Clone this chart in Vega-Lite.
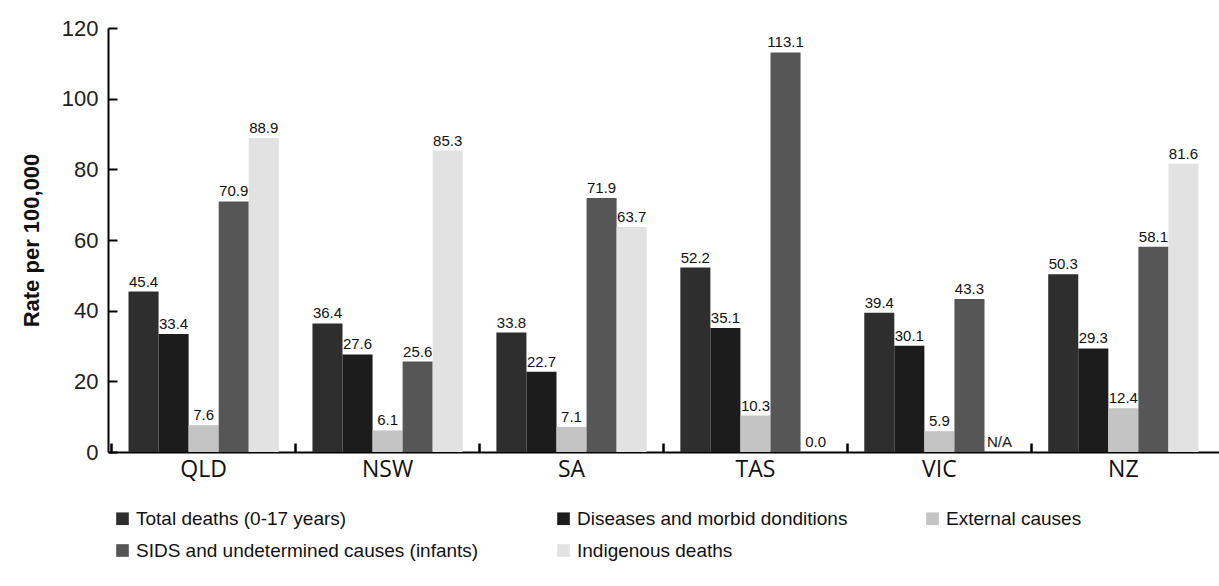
{
  "$schema": "https://vega.github.io/schema/vega-lite/v6.json",
  "width": 1111,
  "height": 424,
  "autosize": {"type": "none"},
  "padding": {"left": 108, "top": 28, "right": 0, "bottom": 134},
  "background": "white",
  "config": {"view": {"stroke": null}},
  "data": {
    "values": [
      {"region": "QLD", "cause": "Total deaths (0-17 years)", "value": 45.4, "label": "45.4"},
      {"region": "QLD", "cause": "Diseases and morbid donditions", "value": 33.4, "label": "33.4"},
      {"region": "QLD", "cause": "External causes", "value": 7.6, "label": "7.6"},
      {"region": "QLD", "cause": "SIDS and undetermined causes (infants)", "value": 70.9, "label": "70.9"},
      {"region": "QLD", "cause": "Indigenous deaths", "value": 88.9, "label": "88.9"},
      {"region": "NSW", "cause": "Total deaths (0-17 years)", "value": 36.4, "label": "36.4"},
      {"region": "NSW", "cause": "Diseases and morbid donditions", "value": 27.6, "label": "27.6"},
      {"region": "NSW", "cause": "External causes", "value": 6.1, "label": "6.1"},
      {"region": "NSW", "cause": "SIDS and undetermined causes (infants)", "value": 25.6, "label": "25.6"},
      {"region": "NSW", "cause": "Indigenous deaths", "value": 85.3, "label": "85.3"},
      {"region": "SA", "cause": "Total deaths (0-17 years)", "value": 33.8, "label": "33.8"},
      {"region": "SA", "cause": "Diseases and morbid donditions", "value": 22.7, "label": "22.7"},
      {"region": "SA", "cause": "External causes", "value": 7.1, "label": "7.1"},
      {"region": "SA", "cause": "SIDS and undetermined causes (infants)", "value": 71.9, "label": "71.9"},
      {"region": "SA", "cause": "Indigenous deaths", "value": 63.7, "label": "63.7"},
      {"region": "TAS", "cause": "Total deaths (0-17 years)", "value": 52.2, "label": "52.2"},
      {"region": "TAS", "cause": "Diseases and morbid donditions", "value": 35.1, "label": "35.1"},
      {"region": "TAS", "cause": "External causes", "value": 10.3, "label": "10.3"},
      {"region": "TAS", "cause": "SIDS and undetermined causes (infants)", "value": 113.1, "label": "113.1"},
      {"region": "TAS", "cause": "Indigenous deaths", "value": 0.0, "label": "0.0"},
      {"region": "VIC", "cause": "Total deaths (0-17 years)", "value": 39.4, "label": "39.4"},
      {"region": "VIC", "cause": "Diseases and morbid donditions", "value": 30.1, "label": "30.1"},
      {"region": "VIC", "cause": "External causes", "value": 5.9, "label": "5.9"},
      {"region": "VIC", "cause": "SIDS and undetermined causes (infants)", "value": 43.3, "label": "43.3"},
      {"region": "VIC", "cause": "Indigenous deaths", "value": null, "label": "N/A"},
      {"region": "NZ", "cause": "Total deaths (0-17 years)", "value": 50.3, "label": "50.3"},
      {"region": "NZ", "cause": "Diseases and morbid donditions", "value": 29.3, "label": "29.3"},
      {"region": "NZ", "cause": "External causes", "value": 12.4, "label": "12.4"},
      {"region": "NZ", "cause": "SIDS and undetermined causes (infants)", "value": 58.1, "label": "58.1"},
      {"region": "NZ", "cause": "Indigenous deaths", "value": 81.6, "label": "81.6"}
    ]
  },
  "encoding": {
    "x": {
      "field": "region", "type": "nominal",
      "sort": ["QLD", "NSW", "SA", "TAS", "VIC", "NZ"],
      "scale": {"paddingInner": 0, "paddingOuter": 0.02}
    },
    "xOffset": {
      "field": "cause", "type": "nominal",
      "sort": ["Total deaths (0-17 years)", "Diseases and morbid donditions", "External causes", "SIDS and undetermined causes (infants)", "Indigenous deaths"],
      "scale": {"paddingInner": 0, "paddingOuter": 0.56}
    }
  },
  "resolve": {"axis": {"x": "independent"}},
  "layer": [
    {
      "mark": {"type": "bar"},
      "encoding": {
        "x": {
          "field": "region", "type": "nominal",
          "sort": ["QLD", "NSW", "SA", "TAS", "VIC", "NZ"],
          "axis": {
            "orient": "bottom",
            "title": null, "labelAngle": 0, "labelFont": "Open Sans", "labelFontSize": 23,
            "labelColor": "#111", "ticks": false, "labelPadding": 6,
            "domainColor": "#000", "domainWidth": 2
          }
        },
        "y": {
          "field": "value", "type": "quantitative",
          "scale": {"domain": [0, 120], "nice": false},
          "axis": {
            "title": "Rate per 100,000", "titleFont": "Liberation Sans", "titleFontSize": 22,
            "titleFontWeight": "bold", "titleColor": "#111", "titlePadding": 18,
            "values": [0, 20, 40, 60, 80, 100, 120], "labelFont": "Liberation Sans",
            "labelFontSize": 22, "labelColor": "#222", "grid": false,
            "domainColor": "#000", "domainWidth": 2, "ticks": true, "tickSize": -9,
            "tickColor": "#000", "tickWidth": 2, "tickOpacity": 1, "labelPadding": 19
          }
        },
        "color": {
          "field": "cause", "type": "nominal",
          "sort": ["Total deaths (0-17 years)", "Diseases and morbid donditions", "External causes", "SIDS and undetermined causes (infants)", "Indigenous deaths"],
          "scale": {
            "domain": ["Total deaths (0-17 years)", "Diseases and morbid donditions", "External causes", "SIDS and undetermined causes (infants)", "Indigenous deaths"],
            "range": ["#2e2e2e", "#1c1c1c", "#c4c4c4", "#565656", "#e2e2e2"]
          },
          "legend": {
            "orient": "none", "legendX": 5, "legendY": 481, "direction": "horizontal",
            "columns": 3, "columnPadding": 75, "rowPadding": 12,
            "title": null, "labelFont": "Liberation Sans", "labelFontSize": 19,
            "labelColor": "#111", "symbolType": "square", "symbolSize": 160,
            "symbolStrokeWidth": 0, "labelLimit": 500, "symbolOpacity": 1
          }
        }
      }
    },
    {
      "transform": [{"calculate": "isValid(datum.value) ? datum.value : 0", "as": "labelY"}],
      "mark": {"type": "text", "dy": -10, "font": "Liberation Sans", "fontSize": 15, "color": "#111"},
      "encoding": {
        "x": {
          "field": "region", "type": "nominal",
          "sort": ["QLD", "NSW", "SA", "TAS", "VIC", "NZ"],
          "axis": {
            "orient": "bottom",
            "title": null, "labels": false, "domain": false, "ticks": true,
            "bandPosition": 0, "tickSize": -9, "tickColor": "#000", "tickWidth": 2.5
          }
        },
        "y": {"field": "labelY", "type": "quantitative"},
        "text": {"field": "label"}
      }
    }
  ]
}
